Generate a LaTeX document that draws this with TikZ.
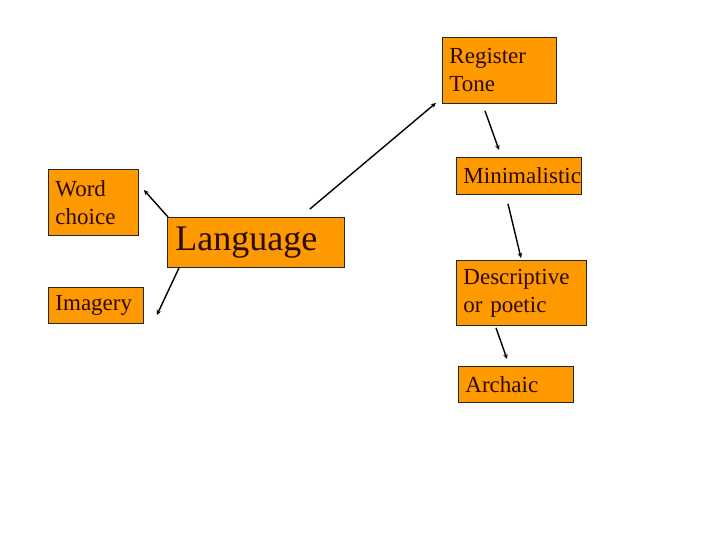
\documentclass[tikz,border=0pt]{standalone}
\usepackage{fontspec}
\setmainfont{Liberation Serif}
\usetikzlibrary{arrows.meta}
\definecolor{boxfill}{HTML}{FF9900}
\definecolor{boxtext}{HTML}{2A0A00}
\tikzset{
  bx/.style={draw=black!85, fill=boxfill, line width=0.9pt, anchor=north west,
    inner xsep=7pt, inner ysep=0pt, align=left, text=boxtext,
    font=\fontsize{23}{28}\selectfont},
  arr/.style={line width=1.4pt, -{Stealth[length=5pt,width=4.5pt]}}
}
\begin{document}
\begin{tikzpicture}[x=1pt,y=-1pt]
\useasboundingbox (0,0) rectangle (720,540);
\node[bx, text width=100pt, minimum height=66pt] (reg) at (442,37) {Register\\Tone};
\node[bx, text width=111pt, minimum height=37pt] (min) at (456,157) {Minimalistic};
\node[bx, text width=76pt, minimum height=66pt] (wc) at (48,169) {Word\\choice};
\node[bx, text width=161pt, inner xsep=8pt, minimum height=50pt, font=\fontsize{36}{40}\selectfont] (lang) at (167,217) {Language};
\node[bx, text width=81pt, minimum height=36pt] (img) at (48,287) {Imagery};
\node[bx, text width=116pt, minimum height=65pt] (desc) at (456,260) {Descriptive\\or poetic};
\node[bx, text width=101pt, minimum height=36pt] (arch) at (458,366) {Archaic};

\draw[arr] ([xshift=-35pt,yshift=8pt]lang.north east) -- ([xshift=-6pt,yshift=1pt]reg.south west);
\draw[arr] ([xshift=1pt]lang.north west) -- ([xshift=5pt,yshift=-21pt]wc.north east);
\draw[arr] ([xshift=12pt]lang.south west) -- ([xshift=13pt,yshift=-28pt]img.north east);
\draw[arr] ([xshift=43pt,yshift=-7pt]reg.south west) -- ([xshift=43pt,yshift=7pt]min.north west);
\draw[arr] ([xshift=52pt,yshift=-9pt]min.south west) -- ([xshift=65pt,yshift=2pt]desc.north west);
\draw[arr] ([xshift=40pt,yshift=-2pt]desc.south west) -- ([xshift=49pt,yshift=7pt]arch.north west);
\end{tikzpicture}
\end{document}
